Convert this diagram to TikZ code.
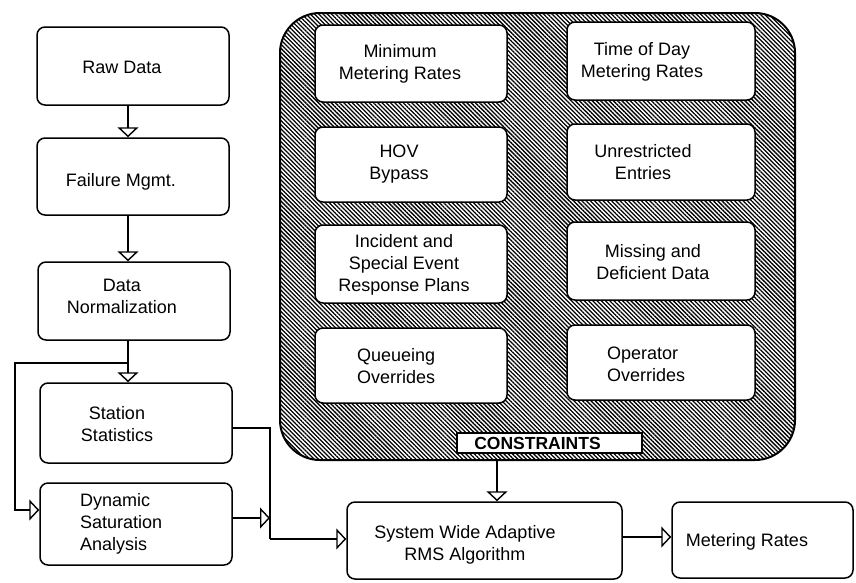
\documentclass[tikz,border=0pt]{standalone}
\usepackage{fontspec}
\setmainfont{Liberation Sans}
\usetikzlibrary{arrows.meta,patterns.meta}
\begin{document}
\begin{tikzpicture}[x=1pt,y=-1pt,
  box/.style={draw,line width=1.5pt,rounded corners=8pt,fill=white,inner sep=0pt},
  txt/.style={font=\fontsize{18}{22}\selectfont,align=center,inner sep=0pt},
  ltxt/.style={font=\fontsize{18}{22}\selectfont,align=left,inner sep=0pt,anchor=west},
  arr/.style={line width=1.4pt,-{Triangle[open,length=10pt,width=21pt,line width=1.4pt]}},
  ln/.style={line width=1.4pt}]
\useasboundingbox (0,0) rectangle (856,582);
% constraints region
\node[draw,line width=2pt,rounded corners=40pt,minimum width=515,minimum height=447,inner sep=0pt,
  pattern={Lines[angle=-45,distance=3pt,line width=1.3pt]}] (big) at (537.5,236.5) {};
% inner constraint boxes
\node[box,minimum width=192,minimum height=77] (minr) at (411,63.5) {};
\node[box,minimum width=192,minimum height=75] (hov) at (411,164.5) {};
\node[box,minimum width=192,minimum height=78] (inc) at (411,264) {};
\node[box,minimum width=192,minimum height=75] (que) at (411,365.5) {};
\node[box,minimum width=188,minimum height=78] (tod) at (661,61) {};
\node[box,minimum width=188,minimum height=76] (unr) at (661,162) {};
\node[box,minimum width=188,minimum height=78] (mis) at (661,261) {};
\node[box,minimum width=188,minimum height=75] (opr) at (661,362.5) {};
\node[txt] (tminr) at (400,64) {Minimum\\Metering Rates};
\node[txt] (thov) at (399,164) {HOV\\Bypass};
\node[txt] (tinc) at (404,265) {Incident and\\Special Event\\Response Plans};
\node[ltxt] (tque) at (357,366) {Queueing\\Overrides};
\node[txt] (ttod) at (642,62) {Time of Day\\Metering Rates};
\node[txt] (tunr) at (643,162) {Unrestricted\\Entries};
\node[txt] (tmis) at (653,262) {Missing and\\Deficient Data};
\node[ltxt] (topr) at (607,364) {Operator\\Overrides};
\node[draw,line width=1.4pt,fill=white,minimum width=185,minimum height=20,inner sep=0pt,
  font=\fontsize{17.5}{18}\selectfont\bfseries] (cons) at (549.5,443) {\hspace*{-24pt}CONSTRAINTS};
% left column
\node[box,minimum width=192,minimum height=78] (raw) at (133,66) {};
\node[box,minimum width=192,minimum height=77] (fail) at (133,176.5) {};
\node[box,minimum width=192,minimum height=78] (norm) at (134,301) {};
\node[box,minimum width=192,minimum height=80] (stat) at (136,423) {};
\node[box,minimum width=192,minimum height=82] (dyn) at (136,524) {};
\node[txt] (traw) at (122,67) {Raw Data};
\node[txt] (tfail) at (121,182) {Failure Mgmt.};
\node[txt] (tnorm) at (122,296) {Data\\Normalization};
\node[txt] (tstat) at (117,424) {Station\\Statistics};
\node[ltxt] (tdyn) at (80,524) {Dynamic\\Saturation\\Analysis};
% bottom
\node[box,minimum width=275,minimum height=77] (sys) at (484.5,540.5) {};
\node[box,minimum width=181,minimum height=76] (met) at (762.5,540) {};
\node[txt] (tsys) at (465,545) {System Wide Adaptive\\RMS Algorithm};
\node[txt] (tmet) at (747,542) {Metering Rates};
% connector helpers
\coordinate (ax) at (128,0);
\coordinate (br) at (128,363);
\coordinate (lx) at (15,0);
\coordinate (vx) at (270,0);
\coordinate (cx) at (497,0);
\coordinate (sy) at (0,539);
\coordinate (dl) at ([yshift=14pt]dyn.west);
\coordinate (dr) at ([yshift=6pt]dyn.east);
\coordinate (sr) at ([yshift=-5pt]stat.east);
\coordinate (yr) at ([yshift=3.5pt]sys.east);
% connectors
\draw[arr] (raw.south -| ax) -- (fail.north -| ax);
\draw[arr] (fail.south -| ax) -- (norm.north -| ax);
\draw[arr] (norm.south -| ax) -- (stat.north -| ax);
\draw[arr] (br) -- (br -| lx) -- (lx |- dl) -- (dl);
\draw[ln] (sr) -- (sr -| vx) -- (vx |- sy);
\draw[arr] (vx |- sy) -- (sys.west |- sy);
\draw[arr] (dr) -- (dr -| vx);
\draw[arr] (big.south -| cx) -- (sys.north -| cx);
\draw[arr] (yr) -- (yr -| met.west);
\end{tikzpicture}
\end{document}
